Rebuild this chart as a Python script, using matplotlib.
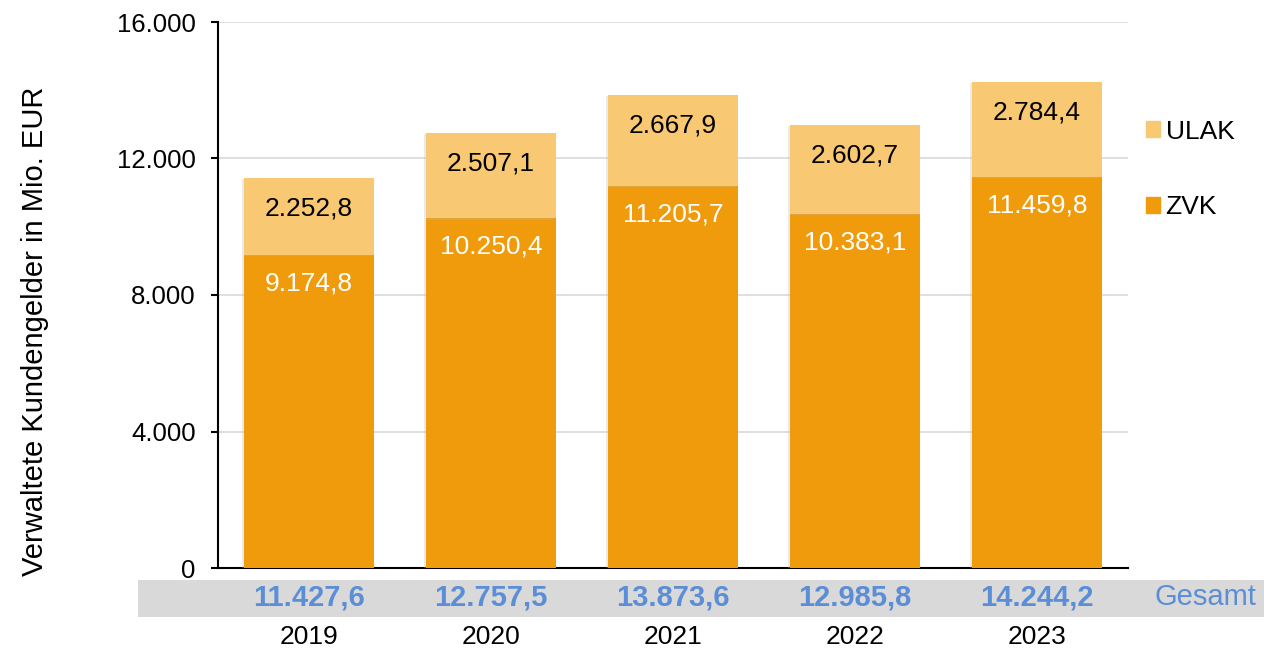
import matplotlib
matplotlib.use("Agg")
import matplotlib.pyplot as plt
from matplotlib.patches import Rectangle
import matplotlib.patheffects as pe

years = ["2019", "2020", "2021", "2022", "2023"]
zvk = [9174.8, 10250.4, 11205.7, 10383.1, 11459.8]
ulak = [2252.8, 2507.1, 2667.9, 2602.7, 2784.4]
gesamt = [11427.6, 12757.5, 13873.6, 12985.8, 14244.2]
yticks = [0, 4000, 8000, 12000, 16000]

def de(v, dec=1):
    s = f"{v:,.{dec}f}"
    return s.replace(",", "X").replace(".", ",").replace("X", ".")

plt.rcParams['font.family'] = ['Liberation Sans', 'DejaVu Sans']
C_ZVK = "#EF9B0B"
C_ULAK = "#F9C872"
BLUE = "#5B8ED6"
FS = 19

fig = plt.figure(figsize=(12.64, 6.51), dpi=100)
ax = fig.add_axes([218/1264, 1-568/651, 910/1264, 546/651])

x = list(range(len(years)))
w = 0.714
shadow = [pe.SimplePatchShadow(offset=(-1.5, -1), shadow_rgbFace="#BBBBBB", alpha=0.3), pe.Normal()]
b1 = ax.bar(x, zvk, w, color=C_ZVK, label="ZVK", zorder=3, path_effects=shadow)
b2 = ax.bar(x, ulak, w, bottom=zvk, color=C_ULAK, label="ULAK", zorder=3, path_effects=shadow)

for i in x:
    ax.annotate(de(zvk[i]), (i, zvk[i]), xytext=(0, -20.5), textcoords="offset points",
                ha="center", va="center", color="white", fontsize=FS, zorder=5)
    ax.annotate(de(ulak[i]), (i, zvk[i] + ulak[i]), xytext=(0, -22), textcoords="offset points",
                ha="center", va="center", color="black", fontsize=FS, zorder=5)

ax.set_xlim(-0.5, 4.5)
ax.set_ylim(0, 16000)
ax.set_yticks(yticks)
ax.set_yticklabels([de(v, 0) for v in yticks], fontsize=18.5)
ax.set_xticks([])
ax.grid(axis="y", color="#D9D9D9", linewidth=1.2, zorder=0)
for s in ["top", "right"]:
    ax.spines[s].set_visible(False)
ax.spines["left"].set_linewidth(1.5)
ax.spines["bottom"].set_linewidth(1.5)
ax.tick_params(axis="y", length=5, width=1.5, pad=11)
fig.text(35/1264, 1-331/651, "Verwaltete Kundengelder in Mio. EUR", fontsize=21,
         rotation=90, ha="center", va="center")

# gray band with totals
band = Rectangle((138/1264, 1-617/651), (1264-138)/1264, 37/651, transform=fig.transFigure,
                 facecolor="#D9D9D9", edgecolor="none", zorder=-5)
fig.patches.append(band)
tr = ax.get_xaxis_transform()
for i in x:
    ax.text(i, -(598-568)/546, de(gesamt[i]), transform=tr, ha="center", va="center",
            color=BLUE, fontsize=21, fontweight="bold", clip_on=False)
    ax.text(i, -(637-568)/546, years[i], transform=tr, ha="center", va="center",
            color="black", fontsize=FS, clip_on=False)
fig.text(1205/1264, 1-597/651, "Gesamt", ha="center", va="center", color=BLUE, fontsize=21)

# legend
h1 = plt.Rectangle((0, 0), 1, 1, color=C_ULAK)
h2 = plt.Rectangle((0, 0), 1, 1, color=C_ZVK)
fig.legend([h1, h2], ["ULAK", "ZVK"], loc="upper left", bbox_to_anchor=(1122/1264, 1-96/651),
           frameon=False, fontsize=FS, handlelength=0.55, handleheight=0.55, handletextpad=0.2,
           labelspacing=1.95)

fig.savefig("out.png", dpi=100)
